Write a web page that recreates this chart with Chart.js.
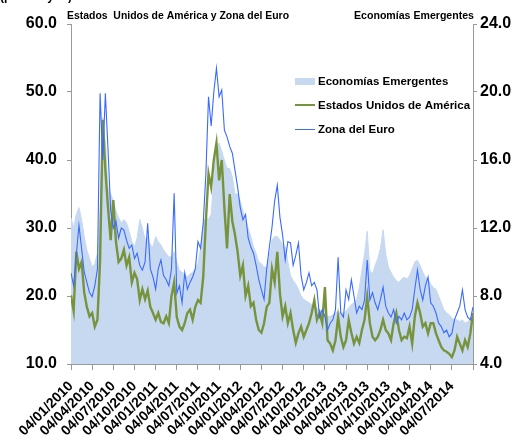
<!DOCTYPE html>
<html>
<head>
<meta charset="utf-8">
<script src="https://cdn.jsdelivr.net/npm/chart.js@4.4.1/dist/chart.umd.min.js"></script>
<style>
  html, body { margin: 0; padding: 0; background: #ffffff; }
  #wrap { width: 525px; height: 446px; position: relative; }
</style>
</head>
<body>
<div id="wrap"><canvas id="c" width="525" height="446"></canvas></div>
<script>
// Quarterly tick labels (8 observations per quarter)
const dateLabels = ["04/01/2010","04/04/2010","04/07/2010","04/10/2010","04/01/2011","04/04/2011","04/07/2011","04/10/2011","04/01/2012","04/04/2012","04/07/2012","04/10/2012","04/01/2013","04/04/2013","04/07/2013","04/10/2013","04/01/2014","04/04/2014","04/07/2014"];
const stepsPerQuarter = 8;

const seriesNames = ["Economías Emergentes", "Estados Unidos de América", "Zona del Euro"];

// Economías Emergentes (right axis)
const emergentes = [
12.6,12.0,12.8,13.2,12.5,11.5,10.7,10.2,
9.7,9.9,10.5,13.0,18.5,17.0,14.4,14.0,
13.6,13.0,12.6,12.3,12.5,12.3,11.8,11.2,
10.9,11.4,12.5,12.0,11.3,11.5,11.0,10.9,
11.5,11.2,11.0,10.7,10.5,10.3,10.3,10.6,
10.0,9.5,9.4,9.3,9.1,9.3,9.4,9.6,
9.9,10.8,12.3,12.6,12.5,12.8,15.0,16.5,
17.0,16.5,16.0,15.5,15.5,15.0,14.0,14.0,
13.6,13.0,12.5,12.0,11.5,10.9,10.5,10.0,
9.9,9.7,9.7,10.3,11.3,11.5,11.5,11.3,
11.0,10.9,10.0,9.2,8.9,8.7,8.4,8.0,
7.8,7.7,7.6,7.5,7.4,7.3,7.2,7.0,
6.9,6.8,6.8,6.9,7.0,7.1,7.0,7.0,
7.1,7.3,7.5,7.6,7.8,8.5,9.5,10.5,
11.8,9.5,9.3,9.8,10.2,10.8,11.9,10.5,
9.7,9.4,9.1,8.9,8.8,9.0,9.1,9.0,
9.2,9.6,10.0,10.1,9.8,9.4,9.1,9.0,
8.7,8.5,8.4,8.0,7.6,7.2,7.0,6.9,
6.7,6.6,6.6,6.5,6.6,6.4,6.5,6.6,
6.8];

// Estados Unidos de América (left axis)
const eeuu = [
20.1,17.8,26.5,24.0,25.0,20.5,18.4,17.0,
17.5,15.5,16.5,25.3,45.9,38.5,33.0,28.2,
34.1,28.0,25.0,25.5,26.8,24.5,25.7,22.0,
23.4,22.5,19.4,21.0,19.5,20.8,18.4,17.5,
16.5,17.5,16.2,16.0,17.0,16.0,20.0,22.0,
16.9,15.5,15.0,16.0,17.5,18.0,16.5,18.4,
19.4,19.0,22.8,31.0,38.0,36.0,40.0,42.5,
37.0,40.0,33.0,27.0,35.0,31.0,29.0,26.5,
23.0,24.5,20.0,21.5,18.5,19.0,16.5,15.0,
14.6,16.0,18.4,19.0,24.0,22.0,26.5,20.4,
17.0,18.5,16.0,17.5,15.0,13.1,14.5,15.5,
14.0,15.0,16.0,17.5,19.4,16.5,17.5,16.0,
21.3,13.5,13.0,12.0,13.5,16.9,14.0,12.5,
13.5,16.5,14.6,13.0,14.0,13.1,15.0,16.5,
19.9,16.0,14.0,13.5,14.0,15.0,16.5,15.0,
14.5,13.5,16.0,17.5,15.0,13.5,14.0,13.8,
15.5,13.0,17.0,19.0,17.5,15.5,16.0,14.5,
16.0,16.0,14.5,13.5,12.5,12.0,11.8,11.5,
11.0,12.0,14.0,13.0,12.0,13.5,12.5,14.5,
17.5];

// Zona del Euro (left axis)
const zonaEuro = [
23.4,21.5,26.0,30.4,27.0,23.5,22.0,20.5,
19.9,21.5,24.0,49.8,40.0,49.8,41.5,32.6,
30.0,31.0,28.5,30.0,29.7,28.2,27.0,27.5,
25.5,26.3,24.5,23.8,25.0,30.7,24.0,22.8,
21.0,24.0,25.3,23.0,22.4,21.5,24.0,35.1,
20.4,21.5,19.0,23.4,21.0,22.0,22.8,24.0,
28.0,27.0,30.7,38.0,49.3,45.0,50.0,53.5,
49.3,50.3,44.4,43.4,42.0,41.0,38.5,36.0,
33.0,31.2,32.0,28.5,27.2,26.3,24.5,22.4,
20.9,19.5,24.0,27.2,30.1,34.0,36.3,31.6,
29.0,25.3,28.0,27.8,24.5,26.0,27.8,23.0,
20.9,22.0,23.4,21.5,22.0,20.9,16.9,18.0,
17.0,15.0,16.0,16.5,18.0,25.7,17.5,16.9,
20.9,19.5,22.4,20.0,17.5,18.5,18.0,19.4,
25.3,19.4,20.5,19.0,18.0,19.5,21.3,18.5,
17.5,16.9,18.0,16.0,17.0,16.5,17.5,16.5,
16.9,18.0,21.0,23.8,21.0,19.4,21.5,22.8,
19.0,18.5,17.5,16.0,15.5,14.6,15.0,14.0,
14.5,16.5,17.5,18.5,20.9,18.0,16.9,16.5,
18.4];

const leftTitle = "Estados  Unidos de América y Zona del Euro";
const rightTitle = "Economías Emergentes";

const FONT = "'Liberation Sans', Arial, sans-serif";
const colEM = "#C6D9F1";
const colUS = "#77933C";
const colEU = "#3A6BFF";

const toPts = arr => arr.map((v, i) => ({x: i, y: v}));
const lastIndex = dateLabels.length * stepsPerQuarter; // 152

const decor = {
  id: 'decor',
  afterDraw(chart) {
    const ctx = chart.ctx;
    ctx.save();
    ctx.fillStyle = '#000';
    ctx.textBaseline = 'alphabetic';
    ctx.textAlign = 'left';
    ctx.font = "bold 12px " + FONT;
    ctx.fillText("(puntos y %)", 0, 0);
    ctx.font = "bold 11px " + FONT;
    ctx.fillText(leftTitle, 67, 19, 222);
    ctx.fillText(rightTitle, 354, 19, 120);
    const lx = 295, lw = 20, tx = 318;
    const rows = [81, 105, 129];
    ctx.fillStyle = colEM;
    ctx.fillRect(lx, rows[0] - 3, lw, 7);
    ctx.strokeStyle = colUS; ctx.lineWidth = 2;
    ctx.beginPath(); ctx.moveTo(lx, rows[1]); ctx.lineTo(lx + lw, rows[1]); ctx.stroke();
    ctx.strokeStyle = colEU; ctx.lineWidth = 1;
    ctx.beginPath(); ctx.moveTo(lx, rows[2] + 0.5); ctx.lineTo(lx + lw, rows[2] + 0.5); ctx.stroke();
    ctx.fillStyle = '#000';
    ctx.font = "bold 11.5px " + FONT;
    ctx.textBaseline = 'middle';
    seriesNames.forEach((n, i) => ctx.fillText(n, tx, rows[i] + 0.5));
    ctx.restore();
  }
};

new Chart(document.getElementById('c'), {
  type: 'line',
  data: {
    datasets: [
      { label: seriesNames[0], data: toPts(emergentes), yAxisID: 'y2', borderColor: colEM, backgroundColor: colEM, borderWidth: 1, fill: 'start', pointRadius: 0, tension: 0, order: 3 },
      { label: seriesNames[1], data: toPts(eeuu), yAxisID: 'y', borderColor: colUS, borderWidth: 2.4, fill: false, pointRadius: 0, tension: 0, order: 2 },
      { label: seriesNames[2], data: toPts(zonaEuro), yAxisID: 'y', borderColor: colEU, borderWidth: 1.1, fill: false, pointRadius: 0, tension: 0, order: 1 }
    ]
  },
  options: {
    responsive: false,
    animation: false,
    layout: { padding: { top: 24, left: 0, right: 0, bottom: 0 } },
    plugins: { legend: { display: false }, tooltip: { enabled: false } },
    scales: {
      x: {
        type: 'linear', min: 0, max: lastIndex,
        grid: { drawOnChartArea: false, color: '#999', tickLength: 6 },
        border: { color: '#999', width: 1 },
        ticks: {
          stepSize: stepsPerQuarter, autoSkip: false, maxRotation: 45, minRotation: 45,
          color: '#000', font: { family: FONT, size: 14, weight: 'bold' }, padding: 8,
          callback: v => dateLabels[Math.round(v / stepsPerQuarter)] || ''
        },
        afterFit: s => { s.height = 82; s.paddingLeft = 0; s.paddingRight = 0; }
      },
      y: {
        position: 'left', min: 10, max: 60,
        grid: { drawOnChartArea: false, color: '#999', tickLength: 4 },
        border: { color: '#999', width: 1 },
        ticks: { stepSize: 10, color: '#000', font: { family: FONT, size: 16, weight: 'bold' }, padding: 10, callback: v => v.toFixed(1) },
        afterFit: s => { s.width = 71; s.paddingTop = 0; s.paddingBottom = 0; }
      },
      y2: {
        position: 'right', min: 4, max: 24,
        grid: { drawOnChartArea: false, color: '#999', tickLength: 4 },
        border: { color: '#999', width: 1 },
        ticks: { stepSize: 4, color: '#000', font: { family: FONT, size: 16, weight: 'bold' }, padding: 3, callback: v => v.toFixed(1) },
        afterFit: s => { s.width = 52; s.paddingTop = 0; s.paddingBottom = 0; }
      }
    }
  },
  plugins: [decor]
});
</script>
</body>
</html>
